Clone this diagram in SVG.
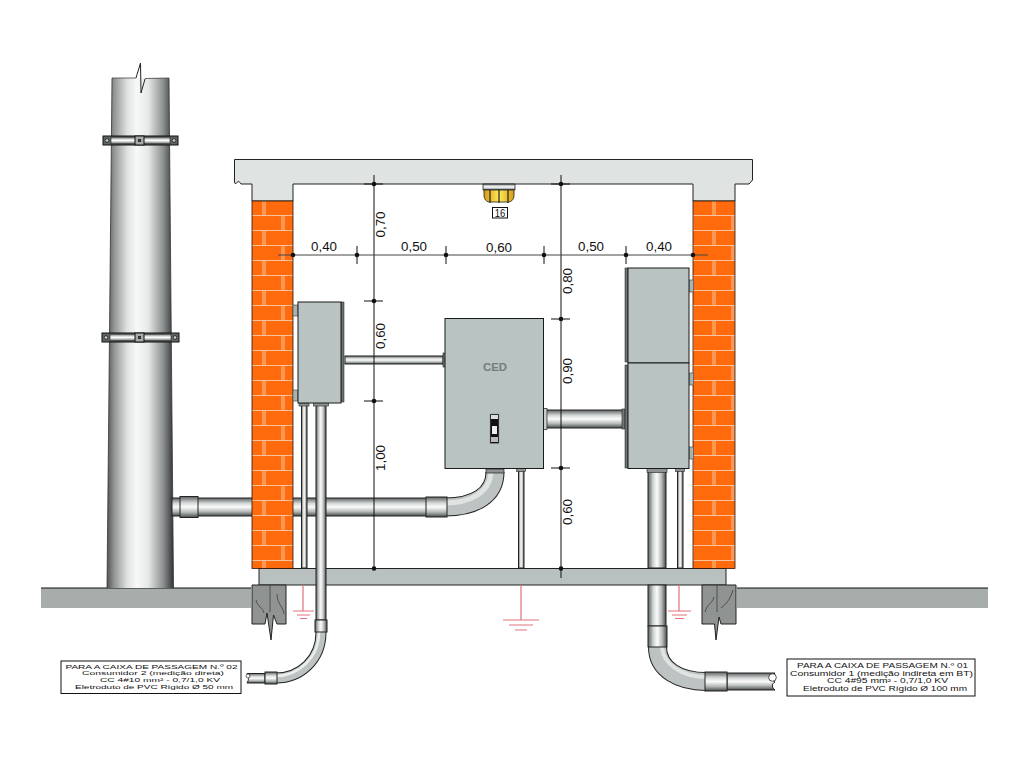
<svg xmlns="http://www.w3.org/2000/svg" width="1024" height="768" viewBox="0 0 1024 768">
<style>
text{font-family:"Liberation Sans",Arial,sans-serif;fill:#111}
.dim{font-size:12px;text-anchor:middle}
.n1{font-size:5.800px}
.n2{font-size:6.400px}
.ln{stroke:#111;stroke-width:1;fill:none}
.dl{stroke:#444;stroke-width:1;fill:none}
.box{fill:#b9c3c2;stroke:#1a1a1a;stroke-width:1}
.strip{fill:#6d7372;stroke:#1a1a1a;stroke-width:.5}
.tab{fill:#a9b3b2;stroke:#555;stroke-width:.7}
.gh{fill:url(#pipeH);stroke:#222;stroke-width:1}
.gv{fill:url(#pipeV);stroke:#222;stroke-width:1}
.crete{fill:#8f9493;stroke:#222;stroke-width:1}
.gnd{stroke:#e0737b;stroke-width:1.200;fill:none}
.mort{stroke:#f8c39a;stroke-width:1;fill:none}
</style>
<defs>
<linearGradient id="pole" x1="0" x2="1" y1="0" y2="0"><stop offset="0" stop-color="#505353"/><stop offset=".1" stop-color="#8d9190"/><stop offset=".3" stop-color="#dfe1e1"/><stop offset=".45" stop-color="#f8f8f8"/><stop offset=".62" stop-color="#e6e8e8"/><stop offset=".85" stop-color="#8a8e8e"/><stop offset="1" stop-color="#333535"/></linearGradient>
<linearGradient id="pipeH" x1="0" x2="0" y1="0" y2="1"><stop offset="0" stop-color="#5c6060"/><stop offset=".3" stop-color="#d5d8d8"/><stop offset=".5" stop-color="#fbfbfb"/><stop offset=".75" stop-color="#b6baba"/><stop offset="1" stop-color="#484b4b"/></linearGradient>
<linearGradient id="pipeV" x1="0" x2="1" y1="0" y2="0"><stop offset="0" stop-color="#5c6060"/><stop offset=".3" stop-color="#d5d8d8"/><stop offset=".5" stop-color="#fbfbfb"/><stop offset=".75" stop-color="#b6baba"/><stop offset="1" stop-color="#484b4b"/></linearGradient>
<linearGradient id="lamp" x1="0" x2="1" y1="0" y2="0"><stop offset="0" stop-color="#d89a10"/><stop offset=".5" stop-color="#ffe95a"/><stop offset="1" stop-color="#d89a10"/></linearGradient>
<pattern id="brickL" patternUnits="userSpaceOnUse" x="252" y="201" width="41" height="30">
<rect width="41" height="30" fill="#ff6a0d"/>
<path class="mort" d="M0 14.500H41M0 29.500H41M11 0V14M13 0V14M30 15V29M32 15V29"/>
</pattern>
<pattern id="brickR" patternUnits="userSpaceOnUse" x="702" y="201" width="41" height="30">
<rect width="41" height="30" fill="#ff6a0d"/>
<path class="mort" d="M0 14.500H41M0 29.500H41M11 0V14M13 0V14M30 15V29M32 15V29"/>
</pattern>
</defs>
<rect width="1024" height="768" fill="#fff"/>

<g id="ground">
<rect x="41" y="588" width="210" height="20" fill="#a6adab"/>
<path class="ln" d="M41 588H251"/>
<rect x="737" y="588" width="251" height="20" fill="#a6adab"/>
<path class="ln" d="M737 588H988"/>
</g>

<g id="pole">
<path d="M112 78H169L173.500 588H107Z" fill="url(#pole)"/>
<path d="M112 78L107 588M169 78L173.500 588" stroke="#333" stroke-width=".8" fill="none"/>
<path d="M112 78H136M145 78.500L169 78" stroke="#444" stroke-width=".8" fill="none"/>
<path d="M136 78L140.500 63L141 93L145 79" stroke="#222" stroke-width="1" fill="none"/>
<g id="clamp-top">
<rect x="103" y="136" width="75" height="9" fill="#5f6464" stroke="#111" stroke-width="1"/>
<rect x="111" y="137" width="59" height="7" fill="url(#pipeH)" stroke="#222" stroke-width=".6"/>
<rect x="135" y="136" width="9" height="9" fill="#a4a9a9" stroke="#111"/>
<rect x="138" y="139" width="3" height="3" fill="#333"/>
<circle cx="107" cy="140.500" r="1.800" fill="#ccc" stroke="#111" stroke-width=".7"/>
<circle cx="174" cy="140.500" r="1.800" fill="#ccc" stroke="#111" stroke-width=".7"/>
</g>
<g id="clamp-bottom">
<rect x="102" y="333" width="77" height="9" fill="#5f6464" stroke="#111" stroke-width="1"/>
<rect x="110" y="334" width="61" height="7" fill="url(#pipeH)" stroke="#222" stroke-width=".6"/>
<rect x="135" y="333" width="9" height="9" fill="#a4a9a9" stroke="#111"/>
<rect x="138" y="336" width="3" height="3" fill="#333"/>
<circle cx="106" cy="337.500" r="1.800" fill="#ccc" stroke="#111" stroke-width=".7"/>
<circle cx="175" cy="337.500" r="1.800" fill="#ccc" stroke="#111" stroke-width=".7"/>
</g>
</g>

<g id="conduits">
<rect class="gh" x="172" y="498" width="256" height="18"/>
<rect class="gh" x="180" y="496.500" width="18" height="21"/>
<path d="M445 507C475 507 495 495 495 472" fill="none" stroke="#222" stroke-width="19"/>
<path d="M445 507C475 507 495 495 495 472" fill="none" stroke="#bdc3c2" stroke-width="17"/>
<path d="M445 503C470 503 490 493 491 472" fill="none" stroke="#dfe3e2" stroke-width="5"/>
<rect class="gh" x="426" y="497" width="21" height="20"/>
<rect x="486" y="469" width="18" height="4" fill="#8d9392" stroke="#222" stroke-width=".7"/>
<rect class="gv" x="301.500" y="404" width="5.500" height="164"/>
<rect x="299" y="403" width="10" height="3" fill="#8d9392" stroke="#222" stroke-width=".6"/>
<rect class="gh" x="345" y="356" width="98" height="8"/>
<rect x="443" y="353" width="3" height="14" fill="#777" stroke="#222" stroke-width=".6"/>
<rect class="gh" x="544" y="410" width="81" height="18"/>
<rect x="543" y="408.500" width="4" height="21" fill="#c9cdcd" stroke="#222" stroke-width=".7"/>
<rect x="622" y="409" width="3" height="20" fill="#777" stroke="#222" stroke-width=".6"/>
<rect class="gv" x="518.500" y="470" width="5.500" height="98"/>
<rect x="516.500" y="468.500" width="9" height="3" fill="#8d9392" stroke="#222" stroke-width=".6"/>
<rect class="gv" x="648" y="470" width="18" height="98"/>
<rect x="647" y="468.500" width="20" height="4" fill="#8d9392" stroke="#222" stroke-width=".6"/>
<rect class="gv" x="677.500" y="470" width="5.500" height="98"/>
<rect x="675.500" y="468.500" width="9" height="3" fill="#8d9392" stroke="#222" stroke-width=".6"/>
</g>

<g id="floor">
<rect x="259" y="568.500" width="467" height="16.500" fill="#b8c1bf" stroke="#222" stroke-width="1"/>
</g>

<g id="building">
<path d="M234.500 159.500H752.500V180L749 184H735V201H693V184H293V201H252V184H241C239 180 237 182 235.500 184L234.500 182Z" fill="#dfe3e1" stroke="#222" stroke-width="1"/>
<rect x="252" y="201" width="41" height="367.500" fill="url(#brickL)" stroke="#2a1408" stroke-width=".8"/>
<rect x="693" y="201" width="42" height="367.500" fill="url(#brickR)" stroke="#2a1408" stroke-width=".8"/>
</g>

<g id="footing-left">
<path class="crete" d="M252 585H286V624H277L273.500 615L271 640L267 613L265 624H252Z"/>
<path d="M270 585V612M256 600C258 608 262 606 264 613M277 594C277 604 283 606 284 614" stroke="#333" stroke-width=".7" fill="none"/>
</g>
<g id="footing-right">
<path class="crete" d="M702 585H736V624H721L719 617L716 640L714.500 624H702Z"/>
<path d="M717 585V612M705 612C707 604 712 604 714 597M721 608C726 604 730 600 733 590" stroke="#333" stroke-width=".7" fill="none"/>
</g>

<g id="underground-right">
<rect class="gv" x="648" y="585" width="18" height="41"/>
<path d="M657.500 647C657.500 670 680 681.500 706 681.500" fill="none" stroke="#222" stroke-width="19"/>
<path d="M657.500 647C657.500 670 680 681.500 706 681.500" fill="none" stroke="#bdc3c2" stroke-width="17"/>
<path d="M662 647C663 664 682 677 706 677" fill="none" stroke="#dfe3e2" stroke-width="4"/>
<rect class="gv" x="648" y="626" width="19" height="21"/>
<path class="gh" d="M727 673H775C771 676 771 680 775 682C771 684 772 688 775 690H727Z"/>
<circle cx="772.500" cy="677.500" r="3.800" fill="#fff" stroke="#222" stroke-width=".8"/>
<rect class="gh" x="705" y="672" width="22" height="19"/>
</g>

<g id="conduit-consumer-2">
<rect class="gv" x="316" y="404" width="10" height="216"/>
<rect x="313.500" y="402.500" width="15" height="3.500" fill="#8d9392" stroke="#222" stroke-width=".6"/>
<path d="M321 632C321 660 300 678 276 678" fill="none" stroke="#222" stroke-width="11"/>
<path d="M321 632C321 660 300 678 276 678" fill="none" stroke="#bdc3c2" stroke-width="9"/>
<path d="M319 632C319 658 298 676 276 676" fill="none" stroke="#eceeee" stroke-width="2.500"/>
<rect class="gv" x="315" y="620" width="12" height="12"/>
<path class="gh" d="M247 673.500H265V683H247C249 680 249 677 247 673.500Z"/>
<circle cx="248" cy="676" r="2" fill="#fff" stroke="#222" stroke-width=".7"/>
<rect class="gh" x="265" y="672" width="12" height="12"/>
</g>

<g id="box-consumer-2">
<rect class="tab" x="293" y="305" width="5" height="11"/>
<rect class="tab" x="293" y="390" width="5" height="11"/>
<rect class="strip" x="341" y="302" width="3" height="100"/>
<rect class="box" x="298" y="302" width="43" height="101"/>
</g>
<g id="box-ced">
<rect class="box" x="445" y="318.500" width="98.500" height="150"/>
<text x="495" y="371" text-anchor="middle" font-size="10.500" font-weight="700" textLength="24" lengthAdjust="spacingAndGlyphs" style="fill:#767c7c">CED</text>
<rect x="490" y="414" width="9" height="29.500" fill="#111" stroke="#999" stroke-width=".5"/>
<rect x="491" y="415" width="7" height="4" fill="#ddd"/>
<rect x="492" y="426" width="5" height="8" fill="#eee"/>
<rect x="491" y="437" width="7" height="5" fill="#bbb"/>
</g>
<g id="box-consumer-1">
<rect class="strip" x="625" y="268" width="3" height="94"/>
<rect class="strip" x="625" y="365" width="3" height="103"/>
<rect class="tab" x="689" y="280" width="4.500" height="12"/>
<rect class="tab" x="689" y="373" width="4.500" height="12"/>
<rect class="tab" x="689" y="447" width="4.500" height="12"/>
<rect class="box" x="628" y="268" width="61" height="95"/>
<rect class="box" x="628" y="363" width="61" height="105.500"/>
</g>

<g id="grounding">
<path class="gnd" d="M303 585V611M293 611H314M297 615H310M300 618.500H307"/>
<path class="gnd" d="M521 585V620M503 620H539M509 625H533M515 630H527"/>
<path class="gnd" d="M679 585V611M668 611H691M672 615H687M675 618.500H684"/>
</g>

<g id="lamp-16">
<path d="M483 184H515V190H483Z" fill="url(#pipeH)" stroke="#222" stroke-width=".8"/>
<path d="M484 190H514V195C514 200 511 202 508 202H490C487 202 484 200 484 195Z" fill="url(#lamp)" stroke="#222" stroke-width=".8"/>
<path d="M490 190V203M499 190V203M508 190V203" stroke="#222" stroke-width="1.200"/>
<rect x="492.500" y="207.500" width="15" height="10.500" fill="#fff" stroke="#111"/>
<text x="500" y="216.500" text-anchor="middle" font-size="10" textLength="10.500" lengthAdjust="spacingAndGlyphs">16</text>
</g>

<g id="dimensions">
<path class="ln" d="M374 175V570M561 175V578"/>
<path class="dl" d="M278 255H708"/>
<path class="ln" d="M357 246V264M446 246V264M544 246V264M626 246V264M364 184H383M364 301H383M364 401H383M551 184H570M551 319H570M551 468H570"/>
<g fill="#111">
<circle cx="293" cy="255" r="2.300"/><circle cx="357" cy="255" r="2.300"/><circle cx="446" cy="255" r="2.300"/><circle cx="544" cy="255" r="2.300"/><circle cx="626" cy="255" r="2.300"/><circle cx="693" cy="255" r="2.300"/>
<circle cx="374" cy="184" r="2.300"/><circle cx="374" cy="301" r="2.300"/><circle cx="374" cy="401" r="2.300"/><circle cx="374" cy="568.500" r="2.300"/>
<circle cx="561" cy="184" r="2.300"/><circle cx="561" cy="319" r="2.300"/><circle cx="561" cy="468" r="2.300"/><circle cx="561" cy="568.500" r="2.300"/>
</g>
<text class="dim" x="324" y="250.500" textLength="26" lengthAdjust="spacingAndGlyphs">0,40</text>
<text class="dim" x="414" y="250.500" textLength="26" lengthAdjust="spacingAndGlyphs">0,50</text>
<text class="dim" x="499" y="252" textLength="26" lengthAdjust="spacingAndGlyphs">0,60</text>
<text class="dim" x="591" y="250.500" textLength="26" lengthAdjust="spacingAndGlyphs">0,50</text>
<text class="dim" x="659" y="250.500" textLength="26" lengthAdjust="spacingAndGlyphs">0,40</text>
<text class="dim" transform="translate(384.500 224.500) rotate(-90)" textLength="26" lengthAdjust="spacingAndGlyphs">0,70</text>
<text class="dim" transform="translate(384.500 336) rotate(-90)" textLength="26" lengthAdjust="spacingAndGlyphs">0,60</text>
<text class="dim" transform="translate(384.500 458) rotate(-90)" textLength="26" lengthAdjust="spacingAndGlyphs">1,00</text>
<text class="dim" transform="translate(571.500 281) rotate(-90)" textLength="26" lengthAdjust="spacingAndGlyphs">0,80</text>
<text class="dim" transform="translate(571.500 371) rotate(-90)" textLength="26" lengthAdjust="spacingAndGlyphs">0,90</text>
<text class="dim" transform="translate(571.500 512) rotate(-90)" textLength="26" lengthAdjust="spacingAndGlyphs">0,60</text>
</g>

<g id="note-02">
<rect x="61" y="661" width="180" height="32.500" fill="#fff" stroke="#111"/>
<text class="n1" x="65.500" y="668.500" textLength="172" lengthAdjust="spacingAndGlyphs">PARA A CAIXA DE PASSAGEM N.º 02</text>
<text class="n1" x="82" y="675.300" textLength="142" lengthAdjust="spacingAndGlyphs">Consumidor  2 (medição direta)</text>
<text class="n1" x="100" y="682" textLength="120" lengthAdjust="spacingAndGlyphs">CC 4#10 mm² - 0,7/1,0 KV</text>
<text class="n1" x="75" y="688.800" textLength="158" lengthAdjust="spacingAndGlyphs">Eletroduto de PVC Rígido Ø 50 mm</text>
</g>
<g id="note-01">
<rect x="787" y="659" width="188" height="37" fill="#fff" stroke="#111"/>
<text class="n2" x="797" y="668" textLength="171" lengthAdjust="spacingAndGlyphs">PARA A CAIXA DE PASSAGEM N.º 01</text>
<text class="n2" x="790" y="675.500" textLength="183" lengthAdjust="spacingAndGlyphs">Consumidor  1 (medição indireta em BT)</text>
<text class="n2" x="827" y="683" textLength="121" lengthAdjust="spacingAndGlyphs">CC 4#95 mm² - 0,7/1,0 KV</text>
<text class="n2" x="803" y="691" textLength="164" lengthAdjust="spacingAndGlyphs">Eletroduto de PVC Rígido Ø 100 mm</text>
</g>
</svg>
